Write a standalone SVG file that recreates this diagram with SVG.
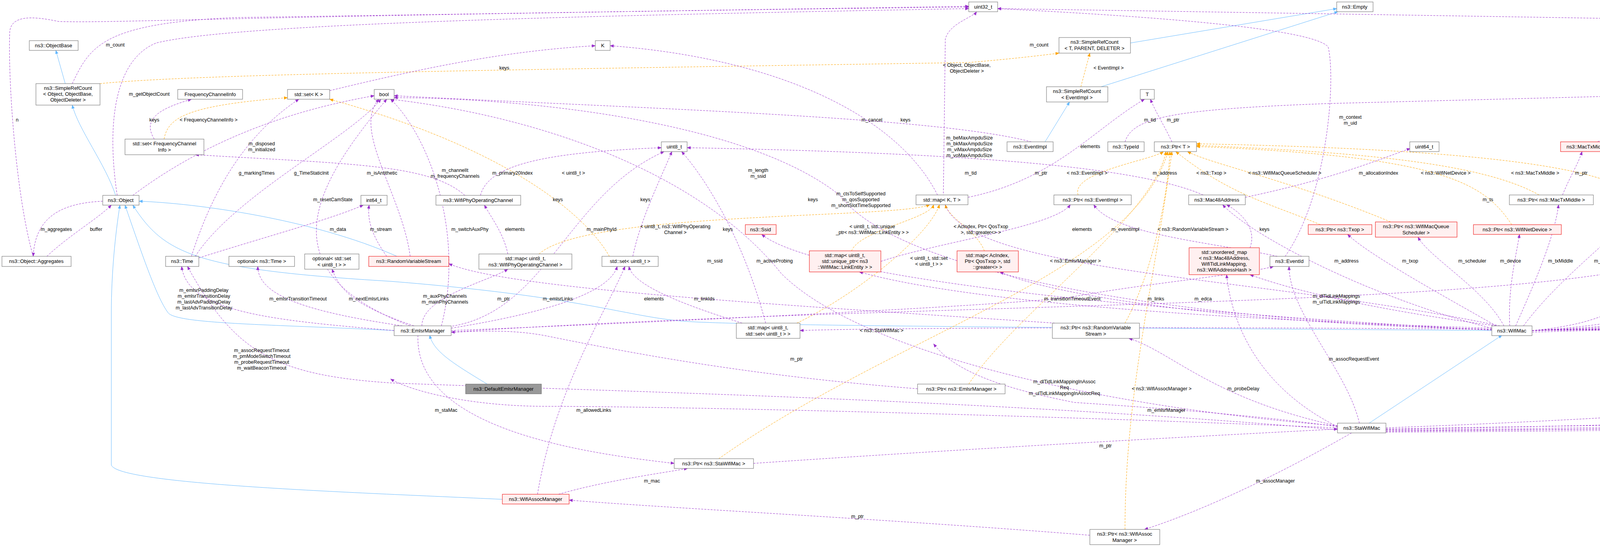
<svg xmlns="http://www.w3.org/2000/svg" width="7955" height="1400" viewBox="0 0 7955 1400">
<style>
text{font-family:"Liberation Sans",Arial,sans-serif;font-size:13px;fill:#000}
.nt{text-anchor:middle}
.lb{text-anchor:middle;font-size:12.5px}
.n{fill:#fff;stroke:#666;stroke-width:1}
.r{fill:#fff0f0;stroke:#e00;stroke-width:1}
.g{fill:#999;stroke:#666;stroke-width:1}
.e{fill:none;stroke:#9a32cd;stroke-width:1;stroke-dasharray:5,3;marker-end:url(#mp)}
.o{fill:none;stroke:#ffa500;stroke-width:1;stroke-dasharray:5,3;marker-end:url(#mo)}
.b{fill:none;stroke:#63b8ff;stroke-width:1;marker-end:url(#mb)}
</style>
<defs>
<marker id="mp" viewBox="0 0 10 10" refX="9" refY="5" markerWidth="10" markerHeight="10" orient="auto" markerUnits="userSpaceOnUse"><path d="M0,1 L10,5 L0,9 z" fill="#9a32cd"/></marker>
<marker id="mo" viewBox="0 0 10 10" refX="9" refY="5" markerWidth="10" markerHeight="10" orient="auto" markerUnits="userSpaceOnUse"><path d="M0,1 L10,5 L0,9 z" fill="#ffa500"/></marker>
<marker id="mb" viewBox="0 0 10 10" refX="9" refY="5" markerWidth="10" markerHeight="10" orient="auto" markerUnits="userSpaceOnUse"><path d="M0,1 L10,5 L0,9 z" fill="#63b8ff"/></marker>
</defs>
<rect width="7955" height="1400" fill="#fff"/>
<g id="edges">
<!-- inheritance -->
<path class="b" d="M167,214 L143,129"/>
<path class="b" d="M296,500 C270,420 200,330 185,269"/>
<path class="b" d="M2894,110 L3422,22"/>
<path class="b" d="M2819,222 L3425,30"/>
<path class="b" d="M2660,388 L2738,261"/>
<path class="b" d="M1016,656 C800,560 500,520 356,515"/>
<path class="b" d="M1009,846 C700,830 450,830 430,800 C400,760 360,640 320,525"/>
<path class="b" d="M1247,983 C1160,930 1110,900 1100,858"/>
<path class="b" d="M1286,1278 C900,1260 300,1240 285,1190 L285,800 C285,700 295,600 307,525"/>
<path class="b" d="M3819,846 C3000,840 1900,835 1750,822 C1600,810 1500,760 1000,720 C500,690 420,650 340,525"/>
<path class="b" d="M3505,1083 L3845,858"/>
<!-- template instances -->
<path class="o" d="M256,214 C500,190 1200,180 2480,160 C2600,150 2680,140 2711,136"/>
<path class="o" d="M2767,222 L2790,136"/>
<path class="o" d="M420,356 C430,300 480,270 736,250"/>
<path class="o" d="M1560,656 C1500,550 1300,380 844,254"/>
<path class="o" d="M1380,650 C1500,540 2300,560 2380,524"/>
<path class="o" d="M2180,642 C2200,590 2380,560 2390,524"/>
<path class="o" d="M2520,642 C2500,590 2430,560 2420,524"/>
<path class="o" d="M2040,827 C2200,750 2380,600 2405,524"/>
<path class="o" d="M2760,499 C2740,440 2950,410 2978,388"/>
<path class="o" d="M2880,827 C2950,700 2990,500 2995,388"/>
<path class="o" d="M3380,575 C3250,520 3150,500 3010,388"/>
<path class="o" d="M3560,568 C3300,460 3100,420 3040,388"/>
<path class="o" d="M3870,575 C3800,470 3700,400 3063,375"/>
<path class="o" d="M3940,499 C3800,420 3500,390 3063,372"/>
<path class="o" d="M4180,499 C4100,420 3700,380 3063,368"/>
<path class="o" d="M2480,983 C2600,800 2950,560 2985,388"/>
<path class="o" d="M1840,1174 C2300,850 2900,700 2990,388"/>
<path class="o" d="M2880,1355 C2880,1000 2960,700 3000,388"/>
<path class="o" d="M4900,642 C4920,560 5500,550 6074,520"/>
<path class="o" d="M5150,634 C5170,560 5600,550 6074,518"/>
<path class="o" d="M5420,650 C5430,560 5800,540 6074,515"/>
<path class="o" d="M5650,642 C5680,560 5900,530 6074,512"/>
<path class="o" d="M5860,650 C5870,560 6000,530 6074,509"/>
<path class="o" d="M6070,642 C6060,600 6080,560 6100,532"/>
<path class="o" d="M6300,642 C6270,600 6200,560 6180,532"/>
<path class="o" d="M6570,650 C6500,560 6400,530 6224,520"/>
<path class="o" d="M6870,650 C6800,560 6500,530 6224,518"/>
<path class="o" d="M7060,650 C7000,560 6600,530 6224,515"/>
<path class="o" d="M7280,650 C7200,560 6700,530 6224,512"/>
<!-- members -->
<path class="e" d="M185,214 C230,120 260,60 600,45 L2480,16"/>
<path class="e" d="M85,656 C40,500 20,200 25,80 C30,40 80,40 150,55 C300,60 600,40 2480,18"/>
<path class="e" d="M263,515 C150,520 90,560 85,656"/>
<path class="e" d="M120,656 C180,600 250,560 285,525"/>
<path class="e" d="M300,500 C270,300 300,150 400,110 C600,60 1500,40 2480,22"/>
<path class="e" d="M340,500 C500,380 700,290 958,245"/>
<path class="e" d="M395,356 C360,300 420,275 490,254"/>
<path class="e" d="M844,232 C1100,170 1300,130 1524,117"/>
<path class="e" d="M1190,500 C1100,420 900,420 500,396"/>
<path class="e" d="M1230,500 C1250,420 1400,390 1693,378"/>
<path class="e" d="M490,656 C540,500 620,350 765,254"/>
<path class="e" d="M500,656 C600,500 900,350 975,254"/>
<path class="e" d="M509,660 C700,600 850,560 930,525"/>
<path class="e" d="M990,656 C950,600 940,560 945,525"/>
<path class="e" d="M1050,656 C1030,500 900,330 970,254"/>
<path class="e" d="M1050,834 C700,700 780,500 990,254"/>
<path class="e" d="M1130,834 C1190,600 1100,350 1000,254"/>
<path class="e" d="M1300,650 C1290,600 1260,560 1240,525"/>
<path class="e" d="M1080,834 C1080,760 1250,720 1300,689"/>
<path class="e" d="M1009,846 C700,820 480,800 465,682"/>
<path class="e" d="M1030,834 C800,800 660,760 660,682"/>
<path class="e" d="M1060,834 C900,780 870,740 850,689"/>
<path class="e" d="M1070,858 C1060,1100 1500,1160 1726,1186"/>
<path class="e" d="M1155,840 C1400,800 1560,750 1580,682"/>
<path class="e" d="M1150,836 C1400,800 1450,500 1700,388"/>
<path class="e" d="M1620,656 C1640,560 1690,460 1720,388"/>
<path class="e" d="M1900,827 C1750,780 1620,730 1610,682"/>
<path class="e" d="M1960,827 C1900,600 1800,450 1745,388"/>
<path class="e" d="M3819,843 C3000,835 2200,840 2048,846"/>
<path class="e" d="M2349,995 C1900,960 1600,900 1400,860 C1300,840 1200,850 1155,850"/>
<path class="e" d="M1929,1186 C2600,1140 3200,1110 3424,1098"/>
<path class="e" d="M3424,1095 C2600,1060 1700,1040 1400,1040 C1200,1040 1050,1000 1000,970"/>
<path class="e" d="M1376,1265 C1420,1000 1550,800 1600,682"/>
<path class="e" d="M1430,1265 C1550,1230 1700,1210 1760,1199"/>
<path class="e" d="M2790,1370 C2300,1330 1700,1300 1457,1280"/>
<path class="e" d="M3460,1108 C3300,1200 3100,1300 2930,1355"/>
<path class="e" d="M3424,1090 C3100,1020 3000,900 2890,866"/>
<path class="e" d="M3480,1083 C3450,950 3300,800 3300,682"/>
<path class="e" d="M3424,1092 C3200,1060 2900,1040 2750,1030 C2600,1000 2450,960 2390,880"/>
<path class="e" d="M3424,1100 C2500,1020 1500,1000 1000,980 C700,960 600,900 480,682"/>
<path class="e" d="M3424,1092 C3200,980 3150,800 3140,703"/>
<path class="e" d="M3830,834 C3500,790 3300,740 3200,703"/>
<path class="e" d="M3819,840 C3200,820 2500,780 2200,696"/>
<path class="e" d="M3819,843 C3200,830 2700,760 2560,696"/>
<path class="e" d="M3840,834 C3200,700 2420,700 2415,500 L2420,100 C2430,60 2490,45 2500,30"/>
<path class="e" d="M2700,827 C2000,780 1300,740 1149,675"/>
<path class="e" d="M1155,846 C1800,820 2600,780 2745,760 C2900,730 3200,700 3260,682"/>
<path class="e" d="M3270,656 C3100,620 2850,600 2800,524"/>
<path class="e" d="M3290,656 C3400,500 3420,200 3400,120 C3350,60 2700,30 2554,22"/>
<path class="e" d="M3000,363 C2980,320 2960,290 2945,254"/>
<path class="e" d="M2880,363 C2900,300 3000,280 3400,265 L4335,241"/>
<path class="e" d="M2478,505 C2700,460 2800,330 2930,254"/>
<path class="e" d="M2400,499 C2300,300 2000,150 1562,117"/>
<path class="e" d="M2640,363 C2400,300 1700,280 1009,245"/>
<path class="e" d="M3080,499 C2900,420 2400,390 1759,378"/>
<path class="e" d="M3188,505 C3400,460 3500,420 3610,380"/>
<path class="e" d="M3200,634 C3220,580 3170,540 3140,524"/>
<path class="e" d="M2255,669 C2400,620 2700,580 2740,524"/>
<path class="e" d="M3830,834 C3700,760 3500,650 3450,600"/>
<path class="e" d="M3850,834 C3800,740 3660,660 3630,607"/>
<path class="e" d="M3865,834 C3860,740 3880,660 3890,600"/>
<path class="e" d="M3880,834 C3940,700 3980,600 3990,524"/>
<path class="e" d="M3900,834 C4000,700 4150,600 4200,524"/>
<path class="e" d="M3819,840 C3500,760 3200,600 3130,524"/>
<path class="e" d="M3819,845 C3000,800 2100,720 1950,600"/>
<path class="e" d="M3819,843 C3000,820 2300,700 2150,500 C1900,300 1300,250 1009,250"/>
<path class="e" d="M3424,1090 C2800,1040 2200,900 2000,700 C1800,450 1400,300 1000,254"/>
<path class="e" d="M1155,850 C2500,760 4300,800 4400,600 C4450,450 4420,320 4380,254"/>
<path class="e" d="M4000,499 C4020,450 4040,420 4050,388"/>
<path class="e" d="M4230,499 C4250,450 4260,420 4265,388"/>
<path class="e" d="M4090,363 C4200,300 4300,270 4345,254"/>
<path class="e" d="M3922,846 C4100,830 4200,780 4240,682"/>
<path class="e" d="M3922,846 C4200,830 4380,780 4400,682"/>
<path class="e" d="M3922,846 C4300,830 4560,780 4600,696"/>
<path class="e" d="M3922,846 C4400,830 4760,780 4800,696"/>
<path class="e" d="M3922,846 C4600,830 5050,780 5100,703"/>
<path class="e" d="M3922,846 C4800,830 5280,780 5320,689"/>
<path class="e" d="M3922,846 C5000,830 5520,780 5560,696"/>
<path class="e" d="M3922,846 C5200,830 5760,780 5790,689"/>
<path class="e" d="M3922,846 C5400,830 5980,780 6000,696"/>
<path class="e" d="M3922,846 C5600,820 6190,760 6200,696"/>
<path class="e" d="M3548,1095 C4500,1060 6000,960 6500,689"/>
<path class="e" d="M3548,1098 C4500,1080 6000,1070 6200,1040 C6230,1030 6245,1020 6250,1008"/>
<path class="e" d="M3548,1098 C5000,1080 6500,1000 6850,689"/>
<path class="e" d="M3548,1100 C5000,1090 6700,1040 7060,689"/>
<path class="e" d="M3548,1102 C5000,1095 6800,1060 7270,689"/>
<path class="e" d="M3922,850 C5000,820 6800,800 7300,720 C7450,680 7490,500 7480,400 C7470,330 7400,310 6500,290 L4408,245"/>
<path class="e" d="M3548,1104 C5000,1090 7000,1060 7700,1000 C7725,990 7727,960 7727,940 L7727,380 C7700,360 7000,320 4408,243"/>
<path class="e" d="M3548,1106 C5000,1100 7500,1040 7790,1033 C7812,1030 7812,1000 7812,980 L7812,120 C7800,110 5000,60 2554,22"/>
<path class="e" d="M6150,492 C6250,440 6350,420 6440,396"/>
<path class="e" d="M4880,642 C4870,520 5100,430 6416,376"/>
<path class="e" d="M5140,634 C5100,500 5300,420 6416,378"/>
<path class="e" d="M5320,650 C5330,520 5500,420 6416,380"/>
<path class="e" d="M5650,642 C5450,560 5500,450 6416,382"/>
<path class="e" d="M5810,650 C5520,560 5700,430 6416,384"/>
<path class="e" d="M6050,642 C6100,600 6300,600 6480,396"/>
<path class="e" d="M6400,642 C6380,560 6350,500 6500,396"/>
<path class="e" d="M6620,650 C6600,560 6560,450 6540,396"/>
<path class="e" d="M6900,650 C6850,560 6700,420 6557,390"/>
<path class="e" d="M7100,650 C7000,500 6700,420 6557,386"/>
<path class="e" d="M7240,650 C7200,500 6800,410 6557,382"/>
<path class="e" d="M7340,650 C7350,500 6900,400 6557,378"/>
</g>
<g id="labels">
<text class="lb" x="295" y="119">m_count</text>
<text class="lb" x="44" y="311">n</text>
<text class="lb" x="1291" y="178">keys</text>
<text class="lb" x="382" y="245">m_getObjectCount</text>
<text class="lb" x="395" y="311">keys</text>
<text class="lb" x="534" y="311">&lt; FrequencyChannelInfo &gt;</text>
<text class="lb" x="670" y="372">m_disposed</text><text class="lb" x="670" y="387">m_initialized</text>
<text class="lb" x="657" y="447">g_markingTimes</text>
<text class="lb" x="797" y="447">g_TimeStaticInit</text>
<text class="lb" x="978" y="447">m_isAntithetic</text>
<text class="lb" x="1165" y="440">m_channelIt</text><text class="lb" x="1165" y="455">m_frequencyChannels</text>
<text class="lb" x="1312" y="447">m_primary20Index</text>
<text class="lb" x="852" y="515">m_resetCamState</text>
<text class="lb" x="144" y="591">m_aggregates</text>
<text class="lb" x="246" y="591">buffer</text>
<text class="lb" x="865" y="591">m_data</text>
<text class="lb" x="975" y="591">m_stream</text>
<text class="lb" x="1203" y="591">m_switchAuxPhy</text>
<text class="lb" x="1318" y="591">elements</text>
<text class="lb" x="522" y="747">m_emlsrPaddingDelay</text><text class="lb" x="522" y="762">m_emlsrTransitionDelay</text><text class="lb" x="522" y="777">m_lastAdvPaddingDelay</text><text class="lb" x="522" y="792">m_lastAdvTransitionDelay</text>
<text class="lb" x="763" y="769">m_emlsrTransitionTimeout</text>
<text class="lb" x="944" y="769">m_nextEmlsrLinks</text>
<text class="lb" x="1139" y="762">m_auxPhyChannels</text><text class="lb" x="1139" y="777">m_mainPhyChannels</text>
<text class="lb" x="1289" y="769">m_ptr</text>
<text class="lb" x="670" y="901">m_assocRequestTimeout</text><text class="lb" x="670" y="916">m_pmModeSwitchTimeout</text><text class="lb" x="670" y="931">m_probeRequestTimeout</text><text class="lb" x="670" y="946">m_waitBeaconTimeout</text>
<text class="lb" x="1142" y="1054">m_staMac</text>
<text class="lb" x="2660" y="119">m_count</text>
<text class="lb" x="2475" y="171">&lt; Object, ObjectBase,</text><text class="lb" x="2475" y="186">ObjectDeleter &gt;</text>
<text class="lb" x="2232" y="311">m_cancel</text>
<text class="lb" x="2318" y="311">keys</text>
<text class="lb" x="2482" y="357">m_beMaxAmpduSize</text><text class="lb" x="2482" y="372">m_bkMaxAmpduSize</text><text class="lb" x="2482" y="387">m_viMaxAmpduSize</text><text class="lb" x="2482" y="402">m_voMaxAmpduSize</text>
<text class="lb" x="1468" y="447">&lt; uint8_t &gt;</text>
<text class="lb" x="1941" y="440">m_length</text><text class="lb" x="1941" y="455">m_ssid</text>
<text class="lb" x="2485" y="447">m_tid</text>
<text class="lb" x="2665" y="447">m_ptr</text>
<text class="lb" x="1428" y="515">keys</text>
<text class="lb" x="1652" y="515">keys</text>
<text class="lb" x="2081" y="515">keys</text>
<text class="lb" x="2204" y="500">m_ctsToSelfSupported</text><text class="lb" x="2204" y="515">m_qosSupported</text><text class="lb" x="2204" y="530">m_shortSlotTimeSupported</text>
<text class="lb" x="1540" y="591">m_mainPhyId</text>
<text class="lb" x="1729" y="584">&lt; uint8_t, ns3::WifiPhyOperating</text><text class="lb" x="1729" y="599">Channel &gt;</text>
<text class="lb" x="1863" y="591">keys</text>
<text class="lb" x="2233" y="584">&lt; uint8_t, std::unique</text><text class="lb" x="2233" y="599">_ptr&lt; ns3::WifiMac::LinkEntity &gt; &gt;</text>
<text class="lb" x="2511" y="584">&lt; AcIndex, Ptr&lt; QosTxop</text><text class="lb" x="2511" y="599">&gt;, std::greater&lt;&gt; &gt;</text>
<text class="lb" x="1830" y="672">m_ssid</text>
<text class="lb" x="1983" y="672">m_activeProbing</text>
<text class="lb" x="2378" y="665">&lt; uint8_t, std::set</text><text class="lb" x="2378" y="680">&lt; uint8_t &gt; &gt;</text>
<text class="lb" x="1428" y="769">m_emlsrLinks</text>
<text class="lb" x="1674" y="769">elements</text>
<text class="lb" x="1803" y="769">m_linkIds</text>
<text class="lb" x="2257" y="850">&lt; ns3::StaWifiMac &gt;</text>
<text class="lb" x="2039" y="923">m_ptr</text>
<text class="lb" x="1520" y="1054">m_allowedLinks</text>
<text class="lb" x="1669" y="1235">m_mac</text>
<text class="lb" x="2195" y="1326">m_ptr</text>
<text class="lb" x="2725" y="981">m_dlTidLinkMappingInAssoc</text><text class="lb" x="2725" y="996">Req</text><text class="lb" x="2725" y="1011">m_ulTidLinkMappingInAssocReq</text>
<text class="lb" x="2838" y="178">&lt; EventImpl &gt;</text>
<text class="lb" x="2944" y="311">m_tid</text>
<text class="lb" x="3003" y="311">m_ptr</text>
<text class="lb" x="3457" y="304">m_context</text><text class="lb" x="3457" y="319">m_uid</text>
<text class="lb" x="2791" y="379">elements</text>
<text class="lb" x="2783" y="447">&lt; ns3::EventImpl &gt;</text>
<text class="lb" x="2982" y="447">m_address</text>
<text class="lb" x="3101" y="447">&lt; ns3::Txop &gt;</text>
<text class="lb" x="3289" y="447">&lt; ns3::WifiMacQueueScheduler &gt;</text>
<text class="lb" x="3529" y="447">m_allocationIndex</text>
<text class="lb" x="3701" y="447">&lt; ns3::WifiNetDevice &gt;</text>
<text class="lb" x="3930" y="447">&lt; ns3::MacTxMiddle &gt;</text>
<text class="lb" x="3809" y="515">m_ts</text>
<text class="lb" x="2770" y="591">elements</text>
<text class="lb" x="2881" y="591">m_eventImpl</text>
<text class="lb" x="3054" y="591">&lt; ns3::RandomVariableStream &gt;</text>
<text class="lb" x="3237" y="591">keys</text>
<text class="lb" x="2753" y="672">&lt; ns3::EmlsrManager &gt;</text>
<text class="lb" x="3447" y="672">m_address</text>
<text class="lb" x="3610" y="672">m_txop</text>
<text class="lb" x="3769" y="672">m_scheduler</text>
<text class="lb" x="3867" y="672">m_device</text>
<text class="lb" x="3995" y="672">m_txMiddle</text>
<text class="lb" x="4113" y="672">m_rxMiddle</text>
<text class="lb" x="2745" y="769">m_transitionTimeoutEvent</text>
<text class="lb" x="2959" y="769">m_links</text>
<text class="lb" x="3080" y="769">m_edca</text>
<text class="lb" x="3421" y="762">m_dlTidLinkMappings</text><text class="lb" x="3421" y="777">m_ulTidLinkMappings</text>
<text class="lb" x="3466" y="923">m_assocRequestEvent</text>
<text class="lb" x="2974" y="999">&lt; ns3::WifiAssocManager &gt;</text>
<text class="lb" x="3183" y="999">m_probeDelay</text>
<text class="lb" x="2986" y="1054">m_emlsrManager</text>
<text class="lb" x="2830" y="1145">m_ptr</text>
<text class="lb" x="3265" y="1235">m_assocManager</text>
<text class="lb" x="4291" y="311">m_sequence</text>
<text class="lb" x="4048" y="447">m_ptr</text>
<text class="lb" x="4170" y="447">&lt; ns3::MacRxMiddle &gt;</text>
<text class="lb" x="4283" y="447">m_ptr</text>
<text class="lb" x="4441" y="515">m_auxPhyMaxWidth</text>
<text class="lb" x="4859" y="515">m_callbackList</text>
<text class="lb" x="5027" y="515">m_callbackList</text>
<text class="lb" x="5268" y="515">m_callbackList</text>
<text class="lb" x="5046" y="584">&lt; uint8_t, Ptr&lt; const</text><text class="lb" x="5046" y="599">WifiPsdu &gt;, const WifiTxVector &amp; &gt;</text>
<text class="lb" x="5335" y="576">&lt; uint8_t, WifiPsduMap</text><text class="lb" x="5335" y="591">*, const std::set&lt; Mac48Address</text><text class="lb" x="5335" y="606">&gt; *, std::size_t &gt;</text>
<text class="lb" x="4232" y="762">m_linkDown</text><text class="lb" x="4232" y="777">m_linkUp</text>
<text class="lb" x="4427" y="769">m_typeOfStation</text>
<text class="lb" x="4620" y="769">m_forwardUp</text>
<text class="lb" x="4825" y="769">m_psduResponseTimeoutCallback</text>
<text class="lb" x="5069" y="762">m_psduMapResponseTimeout</text><text class="lb" x="5069" y="777">Callback</text>
<text class="lb" x="5255" y="762">m_txErrCallback</text><text class="lb" x="5255" y="777">m_txOkCallback</text>
<text class="lb" x="5390" y="515">m_callbackList</text>
<text class="lb" x="5597" y="515">m_callbackList</text>
<text class="lb" x="6401" y="447">m_callbackList</text>
<text class="lb" x="5546" y="591">&lt; const ns3::WifiMacHeader &amp; &gt;</text>
<text class="lb" x="5770" y="584">&lt; WifiMacDropReason,</text><text class="lb" x="5770" y="599">Ptr&lt; const WifiMpdu &gt; &gt;</text>
<text class="lb" x="5960" y="591">&lt; Ptr&lt; const WifiMpdu &gt; &gt;</text>
<text class="lb" x="6138" y="584">&lt; ns3::Ptr&lt; const ns3</text><text class="lb" x="6138" y="599">::Packet &gt; &gt;</text>
<text class="lb" x="6359" y="584">&lt; uint8_t, Ptr&lt; const</text><text class="lb" x="6359" y="599">WifiMpdu &gt;, const WifiTxVector &amp; &gt;</text>
<text class="lb" x="6595" y="591">&lt; uint8_t, ns3::Mac48Address &gt;</text>
<text class="lb" x="6692" y="515">m_callbackList</text>
<text class="lb" x="5426" y="769">m_droppedMpduCallback</text>
<text class="lb" x="5619" y="762">m_ackedMpduCallback</text><text class="lb" x="5619" y="777">m_nackedMpduCallback</text>
<text class="lb" x="5810" y="739">m_macPromiscRxTrace</text><text class="lb" x="5810" y="754">m_macRxDropTrace</text><text class="lb" x="5810" y="769">m_macRxTrace</text><text class="lb" x="5810" y="784">m_macTxDropTrace</text><text class="lb" x="5810" y="799">m_macTxTrace</text>
<text class="lb" x="6035" y="769">m_mpduResponseTimeoutCallback</text>
<text class="lb" x="5715" y="916">m_setupCanceled</text><text class="lb" x="5715" y="931">m_setupCompleted</text>
<text class="lb" x="6243" y="1054">m_state</text>
<text class="lb" x="6636" y="923">m_beaconArrival</text>
<text class="lb" x="6845" y="515">m_callbackList</text>
<text class="lb" x="7016" y="515">m_callbackList</text>
<text class="lb" x="7163" y="515">m_callbackList</text>
<text class="lb" x="7283" y="515">m_callbackList</text>
<text class="lb" x="7440" y="515">m_callbackList</text>
<text class="lb" x="6805" y="591">&lt; ns3::Time &gt;</text>
<text class="lb" x="7047" y="584">&lt; ns3::StaWifiMac::</text><text class="lb" x="7047" y="599">ApInfo &gt;</text>
<text class="lb" x="7293" y="591">&lt; ns3::Mac48Address &gt;</text>
<text class="lb" x="7579" y="493">m_beMaxAmsduSize</text><text class="lb" x="7579" y="508">m_bkMaxAmsduSize</text><text class="lb" x="7579" y="523">m_viMaxAmsduSize</text><text class="lb" x="7579" y="538">m_voMaxAmsduSize</text>
<text class="lb" x="7885" y="515">m_maxMissedBeacons</text>
<text class="lb" x="7757" y="672">m_aid</text>
<text class="lb" x="6875" y="923">m_beaconInfo</text>
<text class="lb" x="7094" y="916">m_assocLogger</text><text class="lb" x="7094" y="931">m_deAssocLogger</text>
</g>
<g id="uint32"><rect class="n" x="2480" y="5" width="74" height="25"/><text class="nt" x="2517" y="22">uint32_t</text></g>
<g id="empty"><rect class="n" x="3422" y="5" width="93" height="25"/><text class="nt" x="3468" y="22">ns3::Empty</text></g>
<g id="objectbase"><rect class="n" x="75" y="104" width="125" height="25"/><text class="nt" x="137" y="121">ns3::ObjectBase</text></g>
<g id="K"><rect class="n" x="1524" y="104" width="38" height="25"/><text class="nt" x="1543" y="121">K</text></g>
<g id="srcT"><rect class="n" x="2711" y="96" width="183" height="40"/><text class="nt" x="2802" y="112">ns3::SimpleRefCount</text><text class="nt" x="2802" y="128">&lt; T, PARENT, DELETER &gt;</text></g>
<g id="srcObj"><rect class="n" x="92" y="214" width="164" height="55"/><text class="nt" x="174" y="230">ns3::SimpleRefCount</text><text class="nt" x="174" y="245">&lt; Object, ObjectBase,</text><text class="nt" x="174" y="260">ObjectDeleter &gt;</text></g>
<g id="fci"><rect class="n" x="455" y="229" width="166" height="25"/><text class="nt" x="538" y="246">FrequencyChannelInfo</text></g>
<g id="setK"><rect class="n" x="736" y="229" width="108" height="25"/><text class="nt" x="790" y="246">std::set&lt; K &gt;</text></g>
<g id="bool"><rect class="n" x="958" y="229" width="51" height="25"/><text class="nt" x="983" y="246">bool</text></g>
<g id="srcEI"><rect class="n" x="2679" y="222" width="157" height="39"/><text class="nt" x="2757" y="238">ns3::SimpleRefCount</text><text class="nt" x="2757" y="254">&lt; EventImpl &gt;</text></g>
<g id="T"><rect class="n" x="2919" y="229" width="36" height="25"/><text class="nt" x="2937" y="246">T</text></g>
<g id="uint16"><rect class="n" x="4335" y="229" width="73" height="25"/><text class="nt" x="4371" y="246">uint16_t</text></g>
<g id="setFCI"><rect class="n" x="320" y="356" width="202" height="40"/><text class="nt" x="421" y="372">std::set&lt; FrequencyChannel</text><text class="nt" x="421" y="388">Info &gt;</text></g>
<g id="uint8"><rect class="n" x="1693" y="363" width="66" height="25"/><text class="nt" x="1726" y="380">uint8_t</text></g>
<g id="eventimpl"><rect class="n" x="2578" y="363" width="118" height="25"/><text class="nt" x="2637" y="380">ns3::EventImpl</text></g>
<g id="typeid"><rect class="n" x="2836" y="363" width="93" height="25"/><text class="nt" x="2882" y="380">ns3::TypeId</text></g>
<g id="ptrT"><rect class="n" x="2955" y="363" width="108" height="25"/><text class="nt" x="3009" y="380">ns3::Ptr&lt; T &gt;</text></g>
<g id="uint64"><rect class="n" x="3609" y="363" width="75" height="25"/><text class="nt" x="3646" y="380">uint64_t</text></g>
<g id="mactx"><rect class="r" x="3995" y="363" width="137" height="25"/><text class="nt" x="4063" y="380">ns3::MacTxMiddle</text></g>
<g id="macrx"><rect class="r" x="4196" y="363" width="138" height="25"/><text class="nt" x="4265" y="380">ns3::MacRxMiddle</text></g>
<g id="cblist"><rect class="r" x="6416" y="356" width="141" height="40"/><text class="nt" x="6486" y="372">std::list&lt; Callback</text><text class="nt" x="6486" y="388">&lt; void, Ts... &gt; &gt;</text></g>
<g id="object"><rect class="n" x="263" y="500" width="93" height="25"/><text class="nt" x="309" y="517">ns3::Object</text></g>
<g id="int64"><rect class="n" x="924" y="500" width="67" height="25"/><text class="nt" x="957" y="517">int64_t</text></g>
<g id="wpoc"><rect class="n" x="1116" y="500" width="217" height="25"/><text class="nt" x="1224" y="517">ns3::WifiPhyOperatingChannel</text></g>
<g id="mapKT"><rect class="n" x="2345" y="499" width="133" height="25"/><text class="nt" x="2411" y="516">std::map&lt; K, T &gt;</text></g>
<g id="ptrEI"><rect class="n" x="2698" y="499" width="198" height="25"/><text class="nt" x="2797" y="516">ns3::Ptr&lt; ns3::EventImpl &gt;</text></g>
<g id="mac48"><rect class="n" x="3043" y="499" width="145" height="25"/><text class="nt" x="3115" y="516">ns3::Mac48Address</text></g>
<g id="ptrTx"><rect class="n" x="3864" y="499" width="215" height="25"/><text class="nt" x="3971" y="516">ns3::Ptr&lt; ns3::MacTxMiddle &gt;</text></g>
<g id="ptrRx"><rect class="n" x="4105" y="499" width="218" height="25"/><text class="nt" x="4214" y="516">ns3::Ptr&lt; ns3::MacRxMiddle &gt;</text></g>
<g id="tcTs"><rect class="n" x="6074" y="492" width="150" height="40"/><text class="nt" x="6149" y="508">ns3::TracedCallback</text><text class="nt" x="6149" y="524">&lt; Ts &gt;</text></g>
<g id="ssid"><rect class="r" x="1908" y="575" width="79" height="25"/><text class="nt" x="1947" y="592">ns3::Ssid</text></g>
<g id="ptrTxop"><rect class="r" x="3349" y="575" width="163" height="25"/><text class="nt" x="3430" y="592">ns3::Ptr&lt; ns3::Txop &gt;</text></g>
<g id="ptrWMQS"><rect class="r" x="3521" y="568" width="209" height="39"/><text class="nt" x="3625" y="584">ns3::Ptr&lt; ns3::WifiMacQueue</text><text class="nt" x="3625" y="600">Scheduler &gt;</text></g>
<g id="ptrWND"><rect class="r" x="3772" y="575" width="225" height="25"/><text class="nt" x="3884" y="592">ns3::Ptr&lt; ns3::WifiNetDevice &gt;</text></g>
<g id="aggr"><rect class="n" x="5" y="656" width="177" height="26"/><text class="nt" x="93" y="673">ns3::Object::Aggregates</text></g>
<g id="time"><rect class="n" x="424" y="656" width="85" height="26"/><text class="nt" x="466" y="673">ns3::Time</text></g>
<g id="optTime"><rect class="n" x="586" y="656" width="168" height="26"/><text class="nt" x="670" y="673">optional&lt; ns3::Time &gt;</text></g>
<g id="optSet"><rect class="n" x="780" y="650" width="139" height="39"/><text class="nt" x="849" y="666">optional&lt; std::set</text><text class="nt" x="849" y="682">&lt; uint8_t &gt; &gt;</text></g>
<g id="rvs"><rect class="r" x="944" y="656" width="205" height="26"/><text class="nt" x="1046" y="673">ns3::RandomVariableStream</text></g>
<g id="mapWPOC"><rect class="n" x="1226" y="650" width="238" height="39"/><text class="nt" x="1345" y="666">std::map&lt; uint8_t,</text><text class="nt" x="1345" y="682">ns3::WifiPhyOperatingChannel &gt;</text></g>
<g id="setU8"><rect class="n" x="1541" y="656" width="144" height="26"/><text class="nt" x="1613" y="673">std::set&lt; uint8_t &gt;</text></g>
<g id="mapLE"><rect class="r" x="2072" y="642" width="183" height="54"/><text class="nt" x="2163" y="658">std::map&lt; uint8_t,</text><text class="nt" x="2163" y="673">std::unique_ptr&lt; ns3</text><text class="nt" x="2163" y="688">::WifiMac::LinkEntity &gt; &gt;</text></g>
<g id="mapAC"><rect class="r" x="2450" y="642" width="157" height="54"/><text class="nt" x="2528" y="658">std::map&lt; AcIndex,</text><text class="nt" x="2528" y="673">Ptr&lt; QosTxop &gt;, std</text><text class="nt" x="2528" y="688">::greater&lt;&gt; &gt;</text></g>
<g id="umap"><rect class="r" x="3044" y="634" width="180" height="69"/><text class="nt" x="3134" y="650">std::unordered_map</text><text class="nt" x="3134" y="665">&lt; ns3::Mac48Address,</text><text class="nt" x="3134" y="680">WifiTidLinkMapping,</text><text class="nt" x="3134" y="695">ns3::WifiAddressHash &gt;</text></g>
<g id="eventid"><rect class="n" x="3251" y="656" width="100" height="26"/><text class="nt" x="3301" y="673">ns3::EventId</text></g>
<g id="cbVoid"><rect class="r" x="4165" y="656" width="165" height="26"/><text class="nt" x="4247" y="673">ns3::Callback&lt; void &gt;</text></g>
<g id="tos"><rect class="n" x="4356" y="656" width="112" height="26"/><text class="nt" x="4412" y="673">TypeOfStation</text></g>
<g id="cbPkt"><rect class="r" x="4493" y="642" width="240" height="54"/><text class="nt" x="4613" y="658">ns3::Callback&lt; void,</text><text class="nt" x="4613" y="673">Ptr&lt; const Packet &gt;</text><text class="nt" x="4613" y="688">, Mac48Address, Mac48Address &gt;</text></g>
<g id="tc1"><rect class="n" x="4758" y="642" width="253" height="54"/><text class="nt" x="4884" y="658">ns3::TracedCallback</text><text class="nt" x="4884" y="673">&lt; uint8_t, Ptr&lt; const</text><text class="nt" x="4884" y="688">WifiPsdu &gt;, const WifiTxVector &amp; &gt;</text></g>
<g id="tc2"><rect class="n" x="5037" y="634" width="237" height="69"/><text class="nt" x="5155" y="650">ns3::TracedCallback</text><text class="nt" x="5155" y="665">&lt; uint8_t, WifiPsduMap</text><text class="nt" x="5155" y="680">*, const std::set&lt; Mac48Address</text><text class="nt" x="5155" y="695">&gt; *, std::size_t &gt;</text></g>
<g id="tc3"><rect class="n" x="5299" y="650" width="233" height="39"/><text class="nt" x="5415" y="666">ns3::TracedCallback</text><text class="nt" x="5415" y="682">&lt; const ns3::WifiMacHeader &amp; &gt;</text></g>
<g id="tc4"><rect class="n" x="5558" y="642" width="187" height="54"/><text class="nt" x="5651" y="658">ns3::TracedCallback</text><text class="nt" x="5651" y="673">&lt; WifiMacDropReason,</text><text class="nt" x="5651" y="688">Ptr&lt; const WifiMpdu &gt; &gt;</text></g>
<g id="tc5"><rect class="n" x="5770" y="650" width="198" height="39"/><text class="nt" x="5869" y="666">ns3::TracedCallback</text><text class="nt" x="5869" y="682">&lt; Ptr&lt; const WifiMpdu &gt; &gt;</text></g>
<g id="tc6"><rect class="n" x="5993" y="642" width="162" height="54"/><text class="nt" x="6074" y="658">ns3::TracedCallback</text><text class="nt" x="6074" y="673">&lt; ns3::Ptr&lt; const ns3</text><text class="nt" x="6074" y="688">::Packet &gt; &gt;</text></g>
<g id="tc7"><rect class="n" x="6180" y="642" width="258" height="54"/><text class="nt" x="6309" y="658">ns3::TracedCallback</text><text class="nt" x="6309" y="673">&lt; uint8_t, Ptr&lt; const</text><text class="nt" x="6309" y="688">WifiMpdu &gt;, const WifiTxVector &amp; &gt;</text></g>
<g id="tc8"><rect class="n" x="6464" y="650" width="230" height="39"/><text class="nt" x="6579" y="666">ns3::TracedCallback</text><text class="nt" x="6579" y="682">&lt; uint8_t, ns3::Mac48Address &gt;</text></g>
<g id="tc9"><rect class="n" x="6805" y="650" width="152" height="39"/><text class="nt" x="6881" y="666">ns3::TracedCallback</text><text class="nt" x="6881" y="682">&lt; ns3::Time &gt;</text></g>
<g id="tc10"><rect class="n" x="6983" y="650" width="209" height="39"/><text class="nt" x="7087" y="666">ns3::TracedCallback</text><text class="nt" x="7087" y="682">&lt; ns3::StaWifiMac::ApInfo &gt;</text></g>
<g id="tc11"><rect class="n" x="7218" y="650" width="180" height="39"/><text class="nt" x="7308" y="666">ns3::TracedCallback</text><text class="nt" x="7308" y="682">&lt; ns3::Mac48Address &gt;</text></g>
<g id="emlsr"><rect class="n" x="1009" y="834" width="146" height="25"/><text class="nt" x="1082" y="851">ns3::EmlsrManager</text></g>
<g id="ptrRVS"><rect class="n" x="2694" y="827" width="223" height="39"/><text class="nt" x="2805" y="843">ns3::Ptr&lt; ns3::RandomVariable</text><text class="nt" x="2805" y="859">Stream &gt;</text></g>
<g id="wifimac"><rect class="n" x="3819" y="834" width="103" height="25"/><text class="nt" x="3870" y="851">ns3::WifiMac</text></g>
<g id="mapU8Set"><rect class="n" x="1885" y="827" width="163" height="39"/><text class="nt" x="1966" y="843">std::map&lt; uint8_t,</text><text class="nt" x="1966" y="859">std::set&lt; uint8_t &gt; &gt;</text></g>
<g id="defemlsr"><rect class="g" x="1192" y="983" width="194" height="25"/><text class="nt" x="1289" y="1000">ns3::DefaultEmlsrManager</text></g>
<g id="ptrEM"><rect class="n" x="2349" y="983" width="224" height="25"/><text class="nt" x="2461" y="1000">ns3::Ptr&lt; ns3::EmlsrManager &gt;</text></g>
<g id="macstate"><rect class="n" x="6206" y="983" width="83" height="25"/><text class="nt" x="6247" y="1000">MacState</text></g>
<g id="stawifimac"><rect class="n" x="3424" y="1083" width="124" height="25"/><text class="nt" x="3486" y="1100">ns3::StaWifiMac</text></g>
<g id="ptrSWM"><rect class="n" x="1726" y="1174" width="203" height="25"/><text class="nt" x="1827" y="1191">ns3::Ptr&lt; ns3::StaWifiMac &gt;</text></g>
<g id="wam"><rect class="r" x="1286" y="1265" width="171" height="25"/><text class="nt" x="1371" y="1282">ns3::WifiAssocManager</text></g>
<g id="ptrWAM"><rect class="n" x="2790" y="1355" width="179" height="39"/><text class="nt" x="2879" y="1371">ns3::Ptr&lt; ns3::WifiAssoc</text><text class="nt" x="2879" y="1387">Manager &gt;</text></g>
</svg>
